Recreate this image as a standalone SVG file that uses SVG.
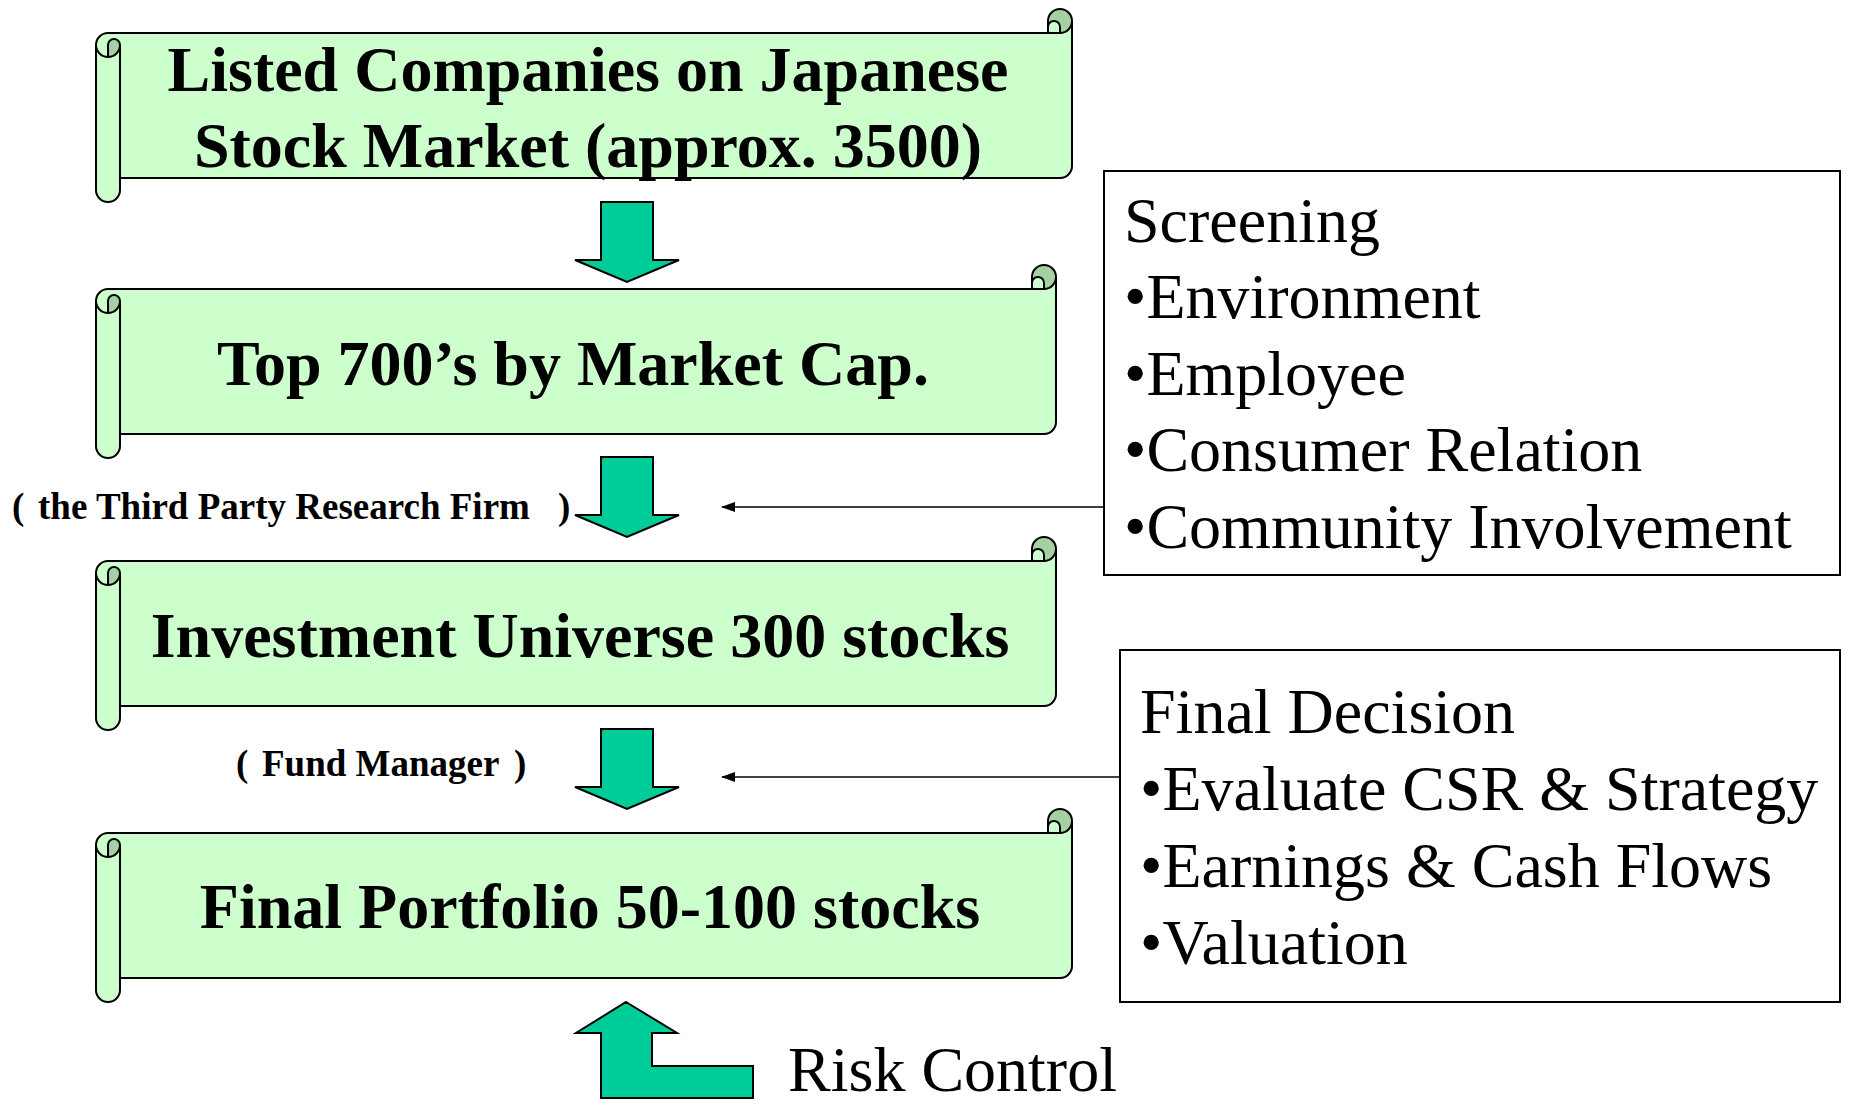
<svg xmlns="http://www.w3.org/2000/svg" xmlns:xlink="http://www.w3.org/1999/xlink" width="1849" height="1106" viewBox="0 0 1849 1106">
<style>
.body{fill:#CCFFCC;stroke:none}
.dark{fill:#A5CFA5;stroke:none}
.ln{fill:none;stroke:#000;stroke-width:2;stroke-linejoin:round}
.arr{fill:#00CC99;stroke:#000;stroke-width:2;stroke-linejoin:miter}
.st{font-family:"Liberation Serif","Times New Roman",serif;font-weight:bold;font-size:64px;fill:#000;text-anchor:middle}
.lab{font-family:"Liberation Serif","Times New Roman",serif;font-weight:bold;font-size:37px;fill:#000}
.bx{font-family:"Liberation Serif","Times New Roman",serif;font-size:64px;fill:#000}
.box{fill:#fff;stroke:#000;stroke-width:2}
.con{fill:none;stroke:#000;stroke-width:1.5}
</style>
<defs>
<marker id="ah" markerWidth="14" markerHeight="10" refX="13" refY="5" orient="auto" markerUnits="userSpaceOnUse">
<path d="M0,0 L14,5 L0,10 Z" fill="#000"/>
</marker>
<g id="scrollA">
<path class="body" d="M0,36 A12,12 0 0 1 12,24 L952,24 L952,12 A12,12 0 0 1 976,12 L976,157 A12,12 0 0 1 964,169 L24,169 L24,181 A12,12 0 0 1 0,181 Z"/>
<circle class="dark" cx="964" cy="12" r="12"/>
<path class="body" d="M952,24 L952,18 A6,6 0 0 1 964,18 L964,24 Z"/>
<path class="dark" d="M12,48 A12,12 0 0 0 24,36 A6,6 0 0 0 12,36 Z"/>
<path class="ln" d="M0,36 A12,12 0 0 1 12,24 L952,24 L952,12 A12,12 0 0 1 976,12 L976,157 A12,12 0 0 1 964,169 L24,169 L24,181 A12,12 0 0 1 0,181 Z"/>
<path class="ln" d="M952,24 L964,24 A12,12 0 0 0 976,12 M964,24 L964,18 A6,6 0 0 0 952,18 M12,48 L12,36 A6,6 0 0 1 24,36 A12,12 0 0 1 0,36 M24,36 L24,169"/>
</g>
<g id="scrollB">
<path class="body" d="M0,36 A12,12 0 0 1 12,24 L936,24 L936,12 A12,12 0 0 1 960,12 L960,157 A12,12 0 0 1 948,169 L24,169 L24,181 A12,12 0 0 1 0,181 Z"/>
<circle class="dark" cx="948" cy="12" r="12"/>
<path class="body" d="M936,24 L936,18 A6,6 0 0 1 948,18 L948,24 Z"/>
<path class="dark" d="M12,48 A12,12 0 0 0 24,36 A6,6 0 0 0 12,36 Z"/>
<path class="ln" d="M0,36 A12,12 0 0 1 12,24 L936,24 L936,12 A12,12 0 0 1 960,12 L960,157 A12,12 0 0 1 948,169 L24,169 L24,181 A12,12 0 0 1 0,181 Z"/>
<path class="ln" d="M936,24 L948,24 A12,12 0 0 0 960,12 M948,24 L948,18 A6,6 0 0 0 936,18 M12,48 L12,36 A6,6 0 0 1 24,36 A12,12 0 0 1 0,36 M24,36 L24,169"/>
</g>
</defs>
<rect width="1849" height="1106" fill="#fff"/>

<g id="node-listed">
<use xlink:href="#scrollA" href="#scrollA" transform="translate(96,9)"/>
<text class="st" x="588" y="91">Listed Companies on Japanese</text>
<text class="st" x="588" y="167">Stock Market (approx. 3500)</text>
</g>

<g id="node-top700">
<use xlink:href="#scrollB" href="#scrollB" transform="translate(96,265)"/>
<text class="st" x="573" y="385">Top 700’s by Market Cap.</text>
</g>

<g id="node-universe">
<use xlink:href="#scrollB" href="#scrollB" transform="translate(96,537)"/>
<text class="st" x="580" y="657">Investment Universe 300 stocks</text>
</g>

<g id="node-portfolio">
<use xlink:href="#scrollA" href="#scrollA" transform="translate(96,809)"/>
<text class="st" x="590" y="928">Final Portfolio 50-100 stocks</text>
</g>

<g id="node-screening">
<rect class="box" x="1104" y="171" width="736" height="404"/>
<text class="bx" x="1124" y="242">Screening</text>
<text class="bx" x="1124" y="318">•Environment</text>
<text class="bx" x="1124" y="395">•Employee</text>
<text class="bx" x="1124" y="471">•Consumer Relation</text>
<text class="bx" x="1124" y="548">•Community Involvement</text>
</g>

<g id="node-decision">
<rect class="box" x="1120" y="650" width="720" height="352"/>
<text class="bx" x="1140" y="733">Final Decision</text>
<text class="bx" x="1140" y="810">•Evaluate CSR &amp; Strategy</text>
<text class="bx" x="1140" y="887">•Earnings &amp; Cash Flows</text>
<text class="bx" x="1140" y="964">•Valuation</text>
</g>

<g id="label-research">
<text class="lab" y="519"><tspan x="12">(</tspan><tspan x="38">the Third Party Research Firm</tspan><tspan x="558">)</tspan></text>
</g>

<g id="label-manager">
<text class="lab" y="776"><tspan x="236">(</tspan><tspan x="262">Fund Manager</tspan><tspan x="514">)</tspan></text>
</g>

<g id="label-risk">
<text class="bx" x="788" y="1091" font-size="62">Risk Control</text>
</g>

<g id="connectors">
<path class="arr" d="M601,202 L653,202 L653,260 L679,260 L627,282 L575,260 L601,260 Z"/>
<path class="arr" d="M601,457 L653,457 L653,515 L679,515 L627,537 L575,515 L601,515 Z"/>
<path class="arr" d="M601,729 L653,729 L653,787 L679,787 L627,809 L575,787 L601,787 Z"/>
<path class="arr" d="M626,1002 L677,1033 L652,1033 L652,1066 L753,1066 L753,1098 L601,1098 L601,1033 L576,1033 Z"/>
<line class="con" x1="1104" y1="507" x2="722" y2="507" marker-end="url(#ah)"/>
<line class="con" x1="1120" y1="777" x2="722" y2="777" marker-end="url(#ah)"/>
</g>
</svg>
